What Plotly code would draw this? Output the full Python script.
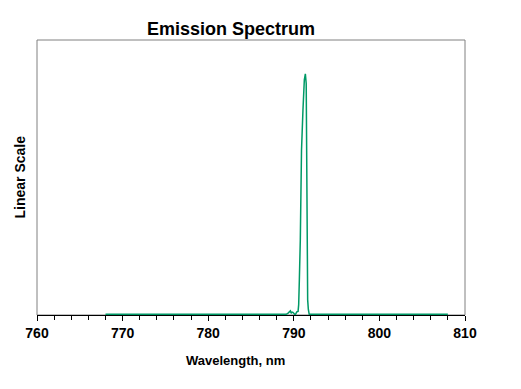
import plotly.graph_objects as go

# Spectrum data (wavelength in nm, relative intensity)
wavelength = [768.0, 789.1, 789.3, 789.5, 789.6, 789.7, 789.8, 789.9, 790.0, 790.1, 790.2,
              790.35, 790.5, 790.57, 790.65, 790.76, 790.9, 790.96, 791.07, 791.23, 791.35,
              791.45, 791.5, 791.62, 791.7, 791.8, 808.0]
intensity = [0.0, 0.0, 0.004, 0.012, 0.014, 0.004, 0.009, 0.008, 0.002, 0.0, 0.0,
             0.01, 0.012, 0.04, 0.145, 0.31, 0.68, 0.79, 0.85, 0.975, 1.0,
             0.96, 0.51, 0.06, 0.02, 0.0, 0.0]

x_range = [760, 810]
x_ticks = [760, 770, 780, 790, 800, 810]
x_ticklabels = ["760", "770", "780", "790", "800", "810"]

title_text = "Emission Spectrum"
x_title = "Wavelength, nm"
y_title = "Linear Scale"

fig = go.Figure()
fig.add_trace(go.Scatter(x=wavelength, y=intensity, mode="lines",
                         line=dict(color="#009966", width=1.5), hoverinfo="skip"))

fig.update_layout(
    width=521, height=389,
    margin=dict(l=37, r=56, t=40, b=74),
    paper_bgcolor="white", plot_bgcolor="white",
    showlegend=False,
    font=dict(family="Liberation Sans, Arial, sans-serif", color="black"),
    xaxis=dict(range=x_range, tickvals=x_ticks, ticktext=x_ticklabels,
               ticks="outside", ticklen=5, tickwidth=1, tickcolor="black",
               minor=dict(dtick=2, ticks="outside", ticklen=4, tickwidth=1, tickcolor="black"),
               showline=True, linecolor="black", linewidth=1,
               showgrid=False, zeroline=False, layer="below traces",
               tickfont=dict(size=14, weight="bold", color="black")),
    yaxis=dict(range=[-0.003, 1.141], showticklabels=False, ticks="",
               showgrid=False, zeroline=False, showline=False),
    shapes=[dict(type="rect", xref="paper", yref="paper", x0=0, x1=1, y0=0, y1=1,
                 line=dict(color="#808080", width=1), layer="below")],
    annotations=[
        dict(text="<b>" + title_text + "</b>", xref="paper", yref="paper",
             x=0.453, y=1, yanchor="middle", xanchor="center", yshift=11,
             showarrow=False, font=dict(size=18, color="black")),
        dict(text="<b>" + x_title + "</b>", xref="paper", yref="paper",
             x=0.463, y=0, yanchor="middle", xanchor="center", yshift=-45,
             showarrow=False, font=dict(size=13, color="black")),
        dict(text="<b>" + y_title + "</b>", xref="paper", yref="paper",
             x=0, y=0.5, xanchor="center", yanchor="middle", xshift=-18,
             textangle=-90, showarrow=False, font=dict(size=14, color="black")),
    ],
)

fig.write_html("out.html", config={"displayModeBar": False, "staticPlot": True},
               post_script="document.body.style.margin='0';document.body.style.padding='0';")
